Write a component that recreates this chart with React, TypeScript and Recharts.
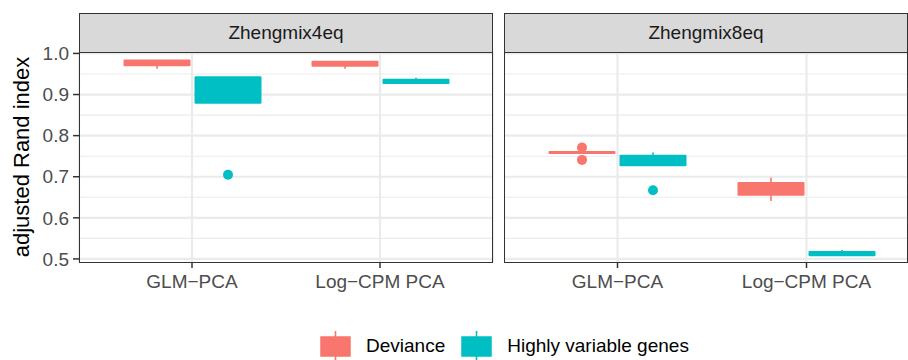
import React from "react";
import { ComposedChart, Bar, XAxis, YAxis, CartesianGrid } from "recharts";

const methods = ["GLM\u2212PCA", "Log\u2212CPM PCA"];
const panels = ["Zhengmix4eq", "Zhengmix8eq"];
const seriesNames = ["Deviance", "Highly variable genes"];
const seriesColors = ["#F8766D", "#00BFC4"];

// per method: [lower whisker, q1, median, q3, upper whisker]
const z4Deviance = [
  [0.963, 0.971, 0.978, 0.983, 0.983],
  [0.963, 0.97, 0.975, 0.98, 0.98],
];
const z4Hvg = [
  [0.88, 0.88, 0.915, 0.942, 0.942],
  [0.928, 0.928, 0.932, 0.936, 0.941],
];
const z4DevianceOut = [[], []];
const z4HvgOut = [[0.705], []];

const z8Deviance = [
  [0.758, 0.758, 0.759, 0.76, 0.76],
  [0.641, 0.656, 0.67, 0.685, 0.698],
];
const z8Hvg = [
  [0.728, 0.728, 0.742, 0.751, 0.759],
  [0.509, 0.509, 0.513, 0.517, 0.522],
];
const z8DevianceOut = [[0.771, 0.741], []];
const z8HvgOut = [[0.667], []];

const majorTicks = [0.5, 0.6, 0.7, 0.8, 0.9, 1.0];
const minorTicks = [0.55, 0.65, 0.75, 0.85, 0.95];
const yDomain = [0.4925, 1.0035];

const FONT = '"Liberation Sans", Arial, Helvetica, sans-serif';

function buildRows(dev: number[][], hvg: number[][], devOut: number[][], hvgOut: number[][]) {
  return methods.map((m, i) => ({
    method: m,
    dev: dev[i],
    hvg: hvg[i],
    devOut: devOut[i],
    hvgOut: hvgOut[i],
  }));
}

const spanOf = (key: string) => (r: any) => {
  const all = [r[key][0], r[key][4], ...r[key + "Out"]];
  return [Math.min(...all), Math.max(...all)];
};

function boxShape(key: string, color: string) {
  return (props: any) => {
    const { x, y, width, height, payload } = props;
    const stats: number[] = payload[key];
    const out: number[] = payload[key + "Out"];
    const [lo, hi] = spanOf(key)(payload);
    const top = Math.min(y, y + height);
    const h = Math.abs(height);
    const py = (v: number) => (hi === lo ? top : top + ((hi - v) / (hi - lo)) * h);
    const cx = x + width / 2;
    const bw = width - 6;
    return (
      <g>
        <line x1={cx} x2={cx} y1={py(stats[4])} y2={py(stats[0])} stroke={color} strokeWidth={1.6} />
        <rect
          x={cx - bw / 2}
          y={py(stats[3])}
          width={bw}
          height={Math.max(py(stats[1]) - py(stats[3]), 0.5)}
          fill={color}
          stroke={color}
          strokeWidth={2}
          strokeLinejoin="round"
        />
        <line x1={cx - bw / 2} x2={cx + bw / 2} y1={py(stats[2])} y2={py(stats[2])} stroke={color} strokeWidth={1.6} />
        {out.map((v, i) => (
          <circle key={i} cx={cx} cy={py(v)} r={5} fill={color} />
        ))}
      </g>
    );
  };
}

function Panel({
  rows,
  width,
  showY,
  padLeft,
  padRight,
}: {
  rows: any[];
  width: number;
  showY: boolean;
  padLeft: number;
  padRight: number;
}) {
  return (
    <ComposedChart
      width={width}
      height={300}
      data={rows}
      margin={{ top: 52, right: showY ? 1 : 0, bottom: 0, left: 0 }}
      barCategoryGap={23.5}
      barGap={0}
    >
      <CartesianGrid horizontalValues={minorTicks} vertical={false} stroke="#EBEBEB" strokeWidth={1.1} />
      <CartesianGrid horizontalValues={majorTicks} stroke="#EBEBEB" strokeWidth={2.2} />
      <XAxis
        dataKey="method"
        interval={0}
        padding={{ left: padLeft, right: padRight }}
        axisLine={false}
        tickLine={{ stroke: "#333333", strokeWidth: 1.5 }}
        tickSize={6}
        tickMargin={7}
        height={38}
        tick={{ fill: "#4D4D4D", fontSize: 19, fontFamily: FONT }}
      />
      <YAxis
        type="number"
        domain={yDomain}
        ticks={majorTicks}
        allowDataOverflow
        hide={!showY}
        width={showY ? 79 : 0}
        axisLine={false}
        tickLine={{ stroke: "#333333", strokeWidth: 1.5 }}
        tickSize={6}
        tickMargin={4}
        tickFormatter={(v: number) => v.toFixed(1)}
        tick={{ fill: "#4D4D4D", fontSize: 19, fontFamily: FONT }}
      />
      <Bar dataKey={spanOf("dev")} shape={boxShape("dev", seriesColors[0])} isAnimationActive={false} />
      <Bar dataKey={spanOf("hvg")} shape={boxShape("hvg", seriesColors[1])} isAnimationActive={false} />
    </ComposedChart>
  );
}

const stripStyle = (left: number, width: number): React.CSSProperties => ({
  position: "absolute",
  left,
  top: 13,
  width,
  height: 40,
  boxSizing: "border-box",
  border: "1.5px solid #333333",
  background: "#D9D9D9",
  color: "#1A1A1A",
  fontSize: 19,
  display: "flex",
  alignItems: "center",
  justifyContent: "center",
});

const borderStyle = (left: number, width: number): React.CSSProperties => ({
  position: "absolute",
  left,
  top: 52,
  width,
  height: 211,
  boxSizing: "border-box",
  border: "1.5px solid #333333",
  pointerEvents: "none",
});

function LegendKey({ color }: { color: string }) {
  return (
    <svg width={31} height={30} style={{ display: "block" }}>
      <line x1={15.5} x2={15.5} y1={0} y2={30} stroke={color} strokeWidth={1.6} />
      <rect x={1} y={6} width={29} height={19} fill={color} stroke={color} strokeWidth={1.5} />
    </svg>
  );
}

export default function App() {
  const left = buildRows(z4Deviance, z4Hvg, z4DevianceOut, z4HvgOut);
  const right = buildRows(z8Deviance, z8Hvg, z8DevianceOut, z8HvgOut);
  return (
    <div
      style={{
        position: "absolute",
        left: 0,
        top: 0,
        width: 908,
        height: 360,
        overflow: "hidden",
        background: "#fff",
        fontFamily: FONT,
      }}
    >
      <div style={{ position: "absolute", left: 0, top: 0 }}>
        <Panel rows={left} width={494} showY padLeft={19} padRight={19} />
      </div>
      <div style={{ position: "absolute", left: 504, top: 0 }}>
        <Panel rows={right} width={404} showY={false} padLeft={19} padRight={7} />
      </div>
      <div style={stripStyle(79, 414)}>{panels[0]}</div>
      <div style={stripStyle(504, 404)}>{panels[1]}</div>
      <div style={borderStyle(79, 414)} />
      <div style={borderStyle(504, 404)} />
      <div
        style={{
          position: "absolute",
          left: 22,
          top: 157,
          transform: "translate(-50%, -50%) rotate(-90deg)",
          whiteSpace: "nowrap",
          fontSize: 22,
          color: "#000",
        }}
      >
        adjusted Rand index
      </div>
      <div
        style={{
          position: "absolute",
          left: 320,
          top: 331,
          display: "flex",
          alignItems: "center",
          fontSize: 19,
          color: "#000",
        }}
      >
        {seriesNames.map((name, i) => (
          <div key={name} style={{ display: "flex", alignItems: "center", marginRight: 16 }}>
            <LegendKey color={seriesColors[i]} />
            <span style={{ marginLeft: 15 }}>{name}</span>
          </div>
        ))}
      </div>
    </div>
  );
}
